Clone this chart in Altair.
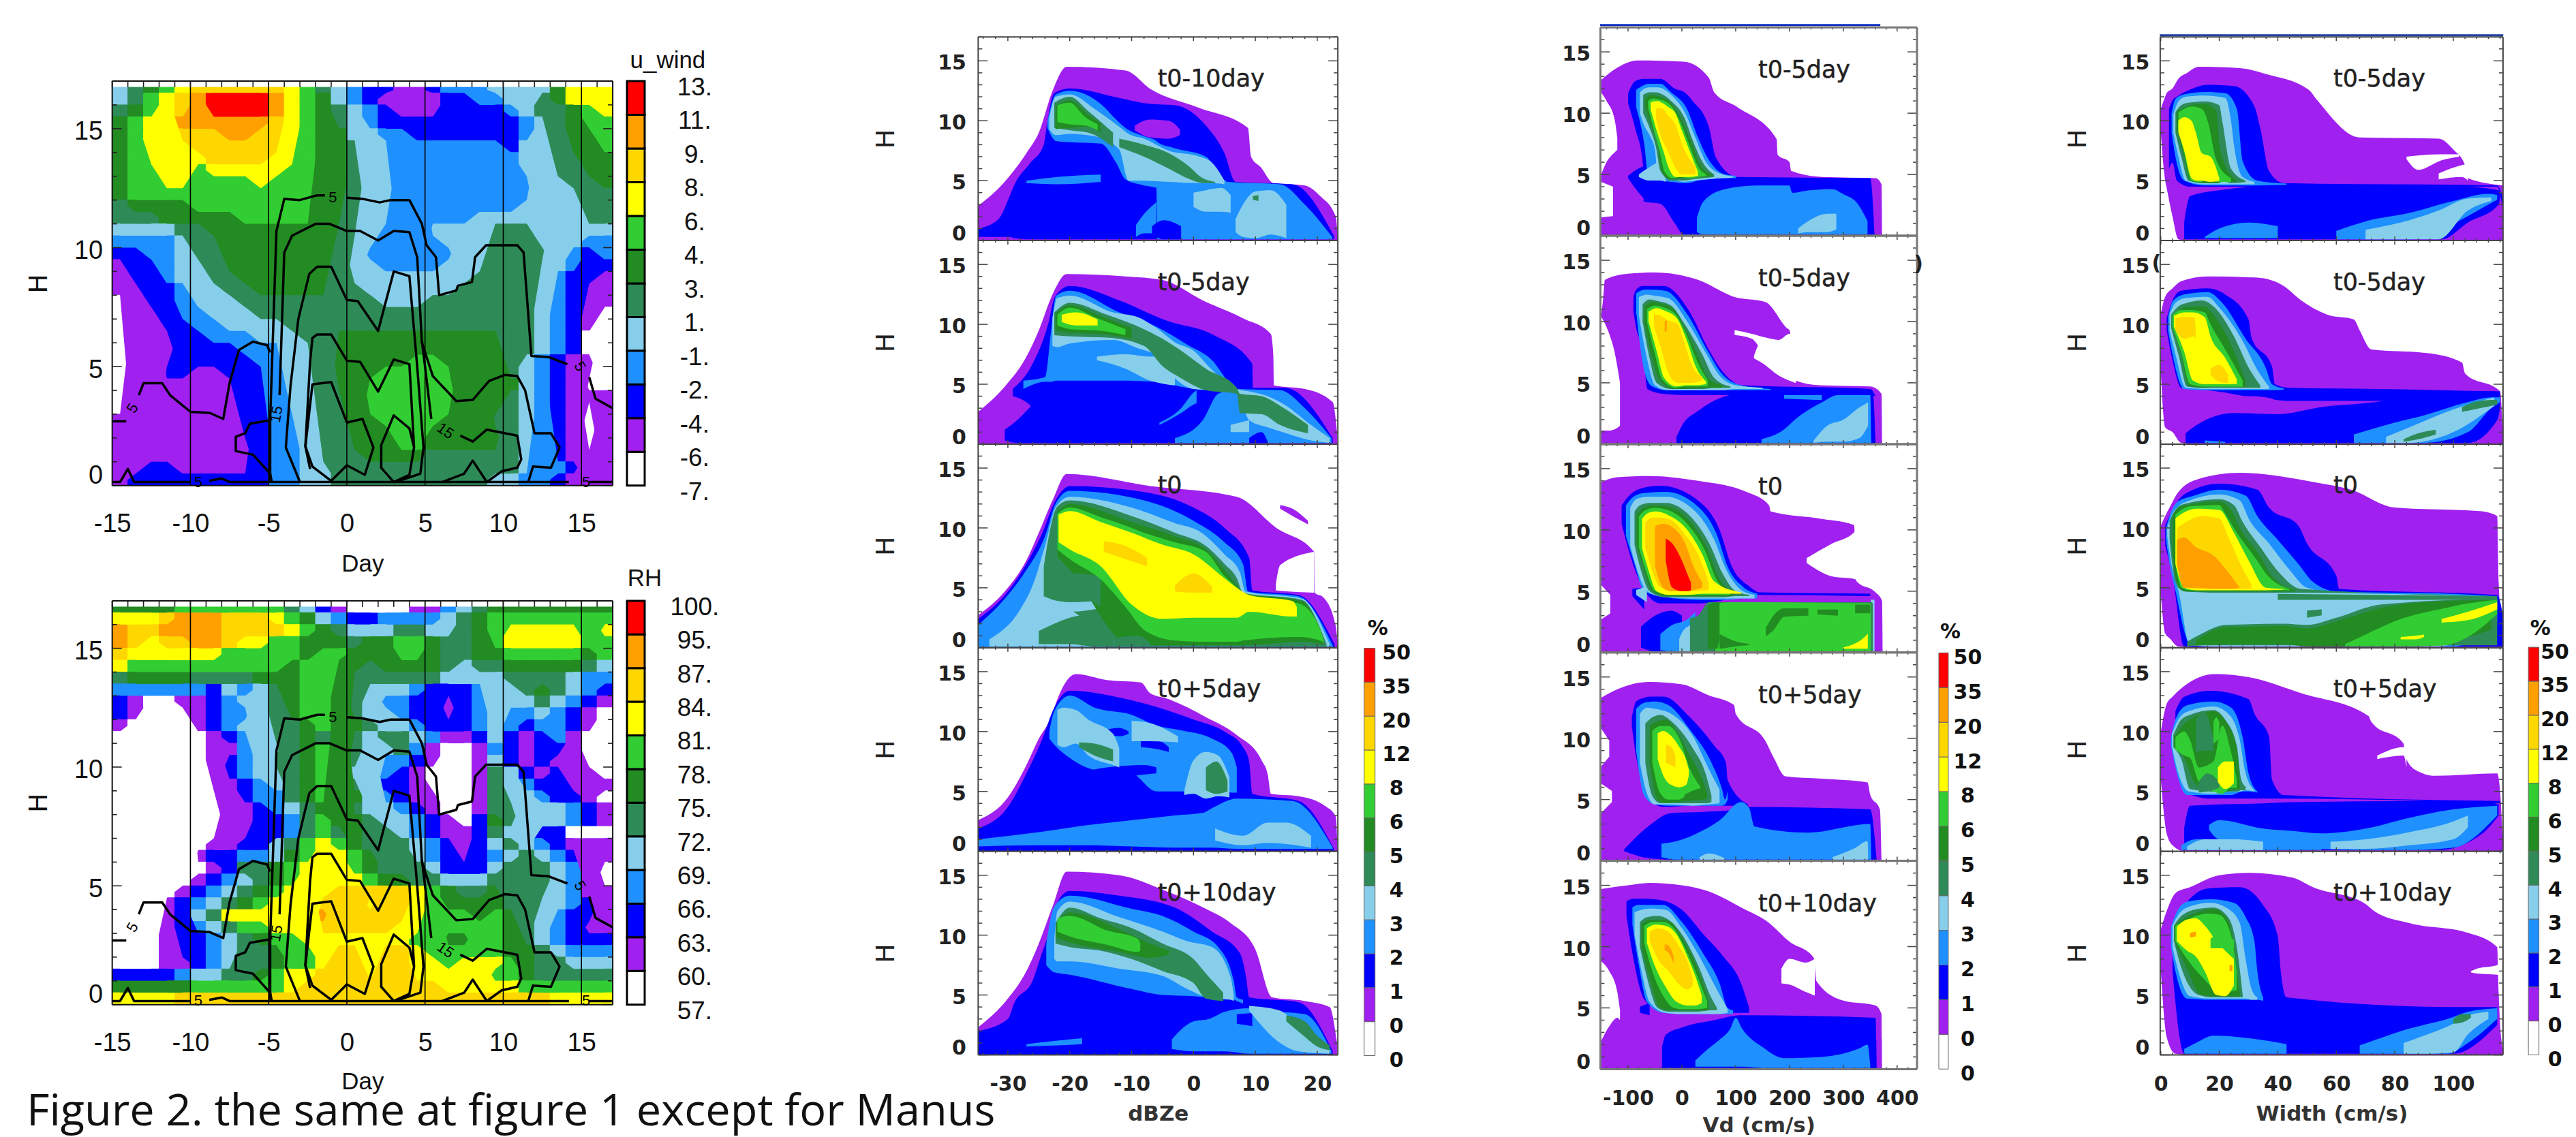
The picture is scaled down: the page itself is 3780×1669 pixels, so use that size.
import altair as alt
import pandas as pd

VIEW_W, VIEW_H = 3772, 1661
LEVELS = ["W", "P", "B", "D", "S", "G", "F", "L", "Y", "O", "A", "R"]
COLORS = ["#ffffff", "#a020f0", "#0000ff", "#1e90ff", "#87ceeb", "#2e8b57", "#228b22", "#32cd32", "#ffff00", "#ffd700", "#ffa000", "#ff0000"]
U_LABELS = ["-7.", "-6.", "-4.", "-2.", "-1.", "1.", "3.", "4.", "6.", "8.", "9.", "11.", "13."]
RH_LABELS = ["57.", "60.", "63.", "66.", "69.", "72.", "75.", "78.", "81.", "84.", "87.", "95.", "100."]
PCT_LABELS = ["0", "0", "1", "2", "3", "4", "5", "6", "8", "12", "20", "35", "50"]

U_WIND = [
"SGFLYOOOOOOYLGSDBBPPBDDDSSSSFYYY",
"SGLYOARRRRAYLFSDBPPPPBBDDSSGFYYY",
"GFLYOARRRRAYLFGSDBPPPBBBBDSGGFLY",
"FLYYAAAAAAOYLFGSDBBBBBBBBBDSGFLL",
"FLYYOOOAAOOYLFFSSDDBBBBBBBDSGFFL",
"FLYYYOOOOOOYLFFGSSDDDDDDDBSSGFFL",
"FLYYYYOOOOYYLFFGSSDDDDDDDDSSGGFF",
"FLLYYLYYYYYLLFFGSSDDDDDDDDSSGGFF",
"FLLYYLLLLYLLLFFGSSDDDDDDDDDSSGGF",
"FLLLLLLLLLLLLFFGSSDDDDDDDDDSSSGG",
"GFFFFLLLLLLLLFFGSSDDDDDDDDSSSSGG",
"GGGFFFFFLLLLLFFGSSDDDDDSSSSSSSGG",
"SSSSGGFFFFFFFFGGSDDDSSSSGGGSSSSS",
"DDDDSGGFFFFFFFGSSDDDDSSSGGGSSSDD",
"BBDDSGGFFFFFFFGSDDDDDDSSGGGGSDBD",
"PBBDSSGFFFFFFFGSSDDDDSSSGGGSSDBB",
"PBBDSSGGFFFFFFGSSSSSSSSGGGGSDBBP",
"PPBBDSSGGFFFFFGGSSSSSSGGGGGSDBPP",
"WPBBDSSSGGGGGGGGGSSSGGGGGGGSDBPP",
"WPPBDDSSSGGGGGGGGGGGGGGGGGGSDBPW",
"WPPBBDDSSSSGGGGGGGGGGGGGGGGSDBPW",
"WPPPBBDDDSSSGGFFFFFFFFFFFGGSDBWW",
"WPPPBBBBDDDSSGFFFFFFFFFFFGGSDBWW",
"WPPPBBBBBDDSSGFFFFFLLFFFFGSDBPPW",
"WPPBBPPBBBDSSGFFFLLLLLFFFGSDBPPW",
"WPPPPPPPBBDSSGFFLLLLLLFFFFSDBPWW",
"WPPPPPPPBBDSSGGFLLLLLLFFFGSDBPPP",
"WPPPPPPPBBDSSGGFLLLLLLFFFGSDBPWP",
"PPPPPPPPBBDDSGGFFLLLLFFFGGSDBPWP",
"PPPPPPPPBBDDSGGFFFLLFFFFFGSDBPWP",
"PPPPPPPPPBDDSGGFFFLLFFFFFGSDBPWP",
"PPPPPPPPPBDDSGGGFFFFGGGGGGSDBPPP",
"PPBBPPPPPBDDSSGGGGGGGGGGGGSDDBPP",
"PBBBBBBBBBDDSSGGGGGGGGGGSSDDBPPP",
]

RH = [
"FFFFLLLLLLLGSBPWWWWPPDSGFFFFFFFF",
"YYYOAAAOOOYLFSDBBDDDDSGFLLLLLLLL",
"AOOAAAAOOOOYLFGSSSGGSSGFLYYYYYLY",
"AOYOOAAOYYLLFFFGFFLLFGGFLYYYYYLL",
"OYYYYYYLLLLLFLLFFFLLFGGFFLLLLLFL",
"YLLLLLLLLLLFLLFFGFFFFGSGGFFFFFGS",
"GFFFFGGGGFFFLLFGGGGGGSSSSGGGGSDD",
"DDDDDDBSDSGFLLFGSSSDBBBDSSGFGSDB",
"BPWWPPBDSSGFLLFGSDDBBPBDSSSGSDBP",
"BPWWWPBDDSGFLLFGSSDBBPBDSDDSDBPW",
"PWWWWPBDSSGGFLFFGSSDBBBDSDBDDBPW",
"WWWWWWPBDSGGFGFGSGGSDPPBSBPBDPWW",
"WWWWWWPPDSSGFLFGSSGDPWWPDBPBBPWW",
"WWWWWWPBDSGGFLFGSDDBPWWPSBPBPPWW",
"WWWWWWPBDSSGFLFSSDBPWWWPGSBPBPPW",
"WWWWWWPPBDSGFLFGSBBPWWWPGSDBBPPP",
"WWWWWWWPBDDGFLFFSDBPPWWPGSSDBBPW",
"WWWWWWWPPBDSGFFGSSDBPWWPGGSSSDBP",
"WWWWWWWPPBBDGLFFGSSDBPWBFGSSSDBP",
"WWWWWWWPPBBDGLGFGGSDBPPBGSSBBWWW",
"WWWWWWPPBBSGLYLFGGGSDBPBSGSDBPPP",
"WWWWWPBBDDSFLYYLFGGSDBPBDSGSDBPP",
"WWWWWWPBGGFLYYYLFGGGSBBBSGGGSDPW",
"WWWWWPBDSGFLYYYYLFFGGSSSGGGGSDPW",
"WWWWPBDSGFLYYYOOOOOYLFGGFGGGSDPP",
"WWWPBDSGFLYYYOOOYOOYLFFFFGGSSDBP",
"WWWPBSGYYYYYYAOOOOOYLLLFLFGSDBBP",
"WWWPBDSGLLYYYOOOOOYYLLLLLFGSDBPP",
"WWWPBBDSGFLLYYYYYYYLLFFLLFGSDBBB",
"WWWPBBDSGGFLLYOOYOOYLLLLLFFGSDDD",
"WWWPPBDSGGFLLYOOYOOYYLYYYLFGGSSS",
"BBBBDSSGGFLYYOOOYOOYYYYYLLFGGGGG",
"FFFFFLLLLLLYOOOOOOOOOYYYYYLLLLLL",
"YYYYOOOOOOOOOOOOOOOOOOOOOOOOYYYY",
]

CONTOURS = [
[(-15,2.7),(-14.1,2.7)],
[(-13.3,3.8),(-13,4.3),(-11.8,4.3),(-11.3,3.8),(-10,3.1),(-8.75,3.05),(-7.9,2.8),(-7.5,4.3),(-6.9,5.7),(-6,6.05),(-5.1,5.9),(-4.9,5.6)],
[(-4.9,0.2),(-4.9,2.8),(-4.5,10.7),(-4,12.05),(-3,12),(-1.9,12.2),(-1.4,12.2)],
[(0,12.1),(1,12.05),(2.1,11.9),(2.8,12),(4,12),(4.8,11),(5.1,10.1),(5.7,9.6),(5.9,8),(7,8.2),(7.1,8.4),(8,8.55),(8.2,9.6),(8.9,10.1),(10.9,10.1),(11.3,9.8),(11.8,5.45),(12.9,5.4),(14.1,5.1)],
[(15.5,4.55),(15.9,3.65),(17,3.25)],
[(-4.9,2.75),(-6.2,2.6),(-6.5,2.2),(-7.1,2.05),(-7.1,1.45),(-6,1.3),(-4.9,.5),(-4.8,.15)],
[(-4.3,3.8),(-4,9.8),(-3.5,10.5),(-2,11),(-1.1,11),(0,10.7),(.85,10.7),(2,10.3),(3,10.7),(4,10.65),(4.5,9.6),(4.8,6),(5.5,4.6),(7,3.55),(8.05,3.6),(9.1,4.4),(10.1,4.65),(10.9,4.6),(11.4,4),(12,2.2),(13.05,2.2),(13.6,1.6),(13.05,.75),(11.9,.8),(11.6,.15)],
[(4.8,6.1),(5.4,2.8)],
[(7.25,2.1),(8.05,1.85),(8.95,2.35),(10.9,2.1),(11.15,1.1),(10.9,.75),(9.9,.6),(8.95,.15),(8.05,1.05),(7.5,.5),(6.1,.15)],
[(-3,.15),(-3.9,1.6),(-3.6,4.2),(-3.1,7),(-2.4,8.9),(-1.9,9.2),(-1,9.2),(0,7.8),(.7,7.75),(2,6.5),(3,9),(4,8.8),(4.5,5),(4.9,1.6),(4.7,.5),(3.1,.15)],
[(-2.35,.7),(-2.65,1.65),(-2.35,5.2),(-2.2,6.2),(-1.9,6.35),(-1,6.35),(0,5.25),(.85,5.2),(2,3.95),(3,5.3),(4,5.1),(4.3,1.6),(4,.45),(3,.15),(2.2,.75),(2.2,1.7),(3,2.95),(4,2.4),(4.3,1.6)],
[(-1,.2),(-2.2,.8),(-2.65,1.65),(-2.2,4.25),(-1,4.35),(0,2.65),(1,2.8),(1.7,1.6),(1.15,.45),(0,.85),(-1,.2)],
[(-15,.15),(-14.5,.15),(-14,.7),(-13.6,.15),(-10,.15)],
[(-8.8,.2),(-8,.3),(-7.5,.15),(14.2,.15)],
[(15.5,.15),(17,.15)],
]
CONTOUR_LABELS = [(-13.7,3.25,"5",-60),(-0.9,12.1,"5",0),(-4.5,3,"15",-80),(6.3,2.3,"15",35),(14.9,5,"5",60),(-9.5,.15,"5",0),(15.3,.15,"5",0)]

# ---- dBZe panels: (level, [(x, low H, high H), ...])
DBZ_M10 = [
("P",[(-35,0,2.9),(-30.7,0,4.8),(-27,0,7.3),(-25,0,9),(-22.7,0,12.6),(-20.5,0,14.5),(-11,0,14.2),(-6.8,0,12.6),(.8,0,11.1),(8.8,0,9.4),(9.3,0,7),(10.9,0,6.1),(12.9,0,4.8),(18,0,4.6),(20.5,0,3.7),(23,0,2),(23.3,0,.3)]),
("B",[(-35,.3,1),(-31.5,.3,1.8),(-29.8,.3,3.6),(-29,.2,4.6),(-26.5,.1,6.4),(-24.2,.1,8),(-23.6,.1,10),(-22.5,.1,12.3),(-20,.1,12.7),(-12,.1,11.9),(-7,.1,11.4),(-3,.1,11.3),(2,.1,9.6),(5,.1,7.3),(6.8,.1,4.9),(16,.1,4.7),(22.7,.1,.4)]),
("P",[(-9.5,9.2,9.6),(-7,8.6,10.1),(-4,8.5,10),(-2.2,8.8,9.3)]),
("D",[(-23.6,9.4,10),(-22.2,8.3,12.2),(-20,8.2,12.5),(-15,8.1,11.4),(-12.5,6.5,10.1),(-11,5.1,9.4),(-8,4.6,8.7),(-6,4.4,8.3),(-5.8,.1,8.2),(-3,.1,7.7),(2,.1,7),(4.5,.1,5.3),(5.5,.1,4.9),(14,.1,4.7),(18,.1,3),(22.4,.1,.3)]),
("D",[(-9.3,.3,1.3),(-8,.6,2.2),(-6,.6,3.2)]),
("D",[(-27,4.8,5),(-22,4.7,5.3),(-15,4.9,5.5)]),
("B",[(-6.7,.5,1.2),(-4.8,.1,1.7),(-2,.1,1.2)]),
("S",[(-23.3,9.3,10.2),(-22.3,8.8,12),(-20,8.9,12.2),(-16,8.7,11),(-12,7.6,9.5),(-10.5,5,8.9),(-8,5,8.5),(-4,4.9,7.5),(1,4.8,7),(3,4.8,6.5),(5,4.7,5)]),
("S",[(0,2.8,4),(2,2.4,4.2),(4.5,2.4,4.4),(6,2.3,3.8)]),
("S",[(6.8,.7,1.8),(8,.3,3),(10,.2,4.1),(12.5,.5,4.2),(15,.2,3)]),
("G",[(-12,7.8,8.5),(-8,7,8),(-4,6,7.3),(-1,5.2,6.3),(1.5,4.8,5.2),(3.5,4.8,4.9)]),
("G",[(-22.5,9.4,11.5),(-20,9.2,12),(-17,9,10.8),(-13,7.8,9)]),
("F",[(-22.3,9.3,11.2),(-20,9.4,11.7),(-17,9.5,10.5),(-15,9,9.8)]),
("L",[(-22,9.9,11.3),(-20,9.7,11.5),(-17.5,9.6,10.3),(-15.5,9.2,9.7)]),
("G",[(9.6,3.4,3.7),(10.5,3.3,3.8)]),
]
DBZ_M5 = [
("P",[(-35,0,2.7),(-30.5,0,4.8),(-27,0,7.3),(-25,0,9.5),(-22.7,0,12.6),(-20.5,0,14.2),(-11,0,14),(-5,0,13.7),(1.5,0,12),(8,0,10.5),(12.5,0,9.2),(12.9,0,7.4),(13,0,4.9),(18,0,4.6),(22.5,0,3.5),(23.2,0,1)]),
("B",[(-30.5,.3,1.2),(-28.5,.1,2),(-26,.1,3.3),(-23,.1,4.5)]),
("B",[(-29.2,4,4.6),(-26,3,6.7),(-23.5,.1,10),(-22.4,.1,12.3),(-20,.1,13.2),(-12,.1,12),(-4.3,.1,10.3),(3.3,.1,9.1),(9.5,.1,6.7),(9.6,.1,4.7),(14.8,.1,4.7),(22.5,.1,.5)]),
("D",[(-27.5,4.6,5.3),(-24,5.2,5.6),(-23,5.2,9.5),(-22.2,5.3,12.4),(-20,5.3,12.8),(-12,5.3,11),(-6,5.2,9.8),(-1,4.7,8.3),(3,4.5,7),(6,4.6,5),(7,.1,4.6),(14,.1,4.5),(18,.1,3),(22.3,.1,.5)]),
("D",[(-5.5,1.6,1.8),(-2,2.6,3),(0,3.3,4.3),(.5,3.4,4.5)]),
("D",[(-3,.1,.5),(1.5,.1,2),(4,.1,4.2),(6.9,.1,4.6)]),
("B",[(9,.1,.5),(11,.1,1),(12,.1,.2)]),
("S",[(-22.8,8.2,10.5),(-22,8.1,12.2),(-20,8.4,12.4),(-13,8.7,11),(-9,8,10.6),(-6,7.4,9.7),(-3,5.5,8.5),(0,4.6,7.8),(3,4.5,6.2),(7,4.4,4.6),(9,2,4.4),(12,1.4,4),(15,.9,3.2),(19,.3,1.6),(22,.1,.5)]),
("S",[(-15.6,7,7.3),(-11,6.3,7.5),(-7,5.3,7.3),(-3,4.9,7.5)]),
("S",[(6,1,1.6),(9,1,2)]),
("G",[(-22.5,9.1,11),(-20,9,11.8),(-14,8.9,10.8),(-8,8.2,9.6),(-5,6.5,8.8),(-2,5.5,7.8),(2,4.5,6.3),(7,4.2,4.7),(7.5,2.6,4.2),(11,2.5,4),(14,1.6,3.2),(18.5,.9,1.6)]),
("F",[(-22.3,9.5,10.9),(-20,9.3,11.6),(-15,9.2,10.7),(-10,8.8,9.7)]),
("L",[(-22,9.9,10.8),(-20,9.6,11.4),(-15.5,9.5,10.5),(-11,9.1,9.6)]),
("Y",[(-21.3,10.2,10.8),(-19,9.9,11),(-15.5,9.9,10.4)]),
]
DBZ_0 = [
("P",[(-35,0,2.7),(-30,0,5),(-27,0,7.3),(-25,0,9.6),(-22.7,0,12.4),(-20.5,0,14.5),(-7,0,13.5),(7,0,12.6),(13.4,0,10),(19.5,0,8),(19.6,0,4.6),(21,0,4.2),(23,0,1.8),(23.3,0,.2)]),
("W",[(13.3,4.8,5.3),(14,4.75,6.9),(19.5,4.6,8)]),
("P",[(14,11.6,11.9),(16,11,11.6),(18.5,10.3,10.6)]),
("B",[(-35,0,2.4),(-30,0,4.7),(-27,0,7),(-24.5,0,9.5),(-22.4,0,12.2),(-20,0,13.5),(-8,0,13),(0,0,11.7),(5,0,10),(9,0,7.5),(9.5,0,4.8),(17,0,4.4),(22.8,0,.3)]),
("D",[(-35,0,1.9),(-30,0,4.4),(-27,0,6.5),(-24,0,9.3),(-22.3,0,12),(-20,0,13.1),(-8,0,12.3),(0,0,10.6),(5,0,8.8),(8,0,7),(8.8,0,4.7),(17,0,4.3),(22.5,0,.2)]),
("S",[(-33,.1,.7),(-28,.1,3.2),(-26,.1,5.2),(-24,.1,8.5),(-22.2,.1,11.8),(-20,.1,12.6),(-10,.1,11.7),(-3,.1,10.4),(1,.1,9.7),(5,.1,7.8),(7.5,.1,6.3),(8.4,.1,4.7),(17.5,.1,4.1),(22,.1,.3)]),
("G",[(-24.2,4.3,6.8),(-22,3.8,11.8),(-20,3.2,12.3),(-10,.1,11),(-3,.1,9.6),(2,.1,8.5),(5,.1,7),(7,.1,5.8),(8,.1,4.6),(17.5,.1,4),(21.5,.1,.3)]),
("G",[(-25,.3,1.4),(-20,.3,2.5),(-16,.1,3),(-13,.1,4)]),
("S",[(-26,3,4.5),(-20,3,3.8),(-14,3.4,4)]),
("F",[(-22,7.6,11.4),(-20,6.5,12),(-10,.2,10.5),(-3,.2,9.3),(2,.2,8.2),(5,.2,6.5),(7,.2,5.2),(7.8,.2,4.6),(17.5,.5,3.9),(21,.3,.6)]),
("G",[(-24,5,5.6),(-20,4.8,6.2),(-15,3.4,6)]),
("G",[(-13,.1,.8),(-9,.1,1),(-7,.1,.4)]),
("L",[(-22,8.2,11.2),(-20,7.4,11.7),(-15,5.7,10.9),(-11,3.4,10.2),(-8,1.5,9.6),(-3,.6,8.8),(2,.5,8),(5,.5,6),(7,.5,5),(8,.6,4.4),(17,.9,3.7),(20.5,.6,1.5),(21,.4,.7)]),
("Y",[(-21.8,8.8,11.1),(-20,8.2,11.4),(-15,6.8,10.5),(-10,3.6,9.6),(-5,2.4,8.6),(0,2.5,7.8),(5,2.5,5.8),(7,2.5,5),(9,3,4.4),(16,2.6,3.9),(16.7,2.6,3.4)]),
("O",[(-14.5,8,8.9),(-11,7.4,8.5),(-7.5,6.8,7.5)]),
("O",[(-3,4.7,5.2),(0,4.6,6.2),(3,4.6,5.1)]),
]
DBZ_P5 = [
("P",[(-35,0,2.6),(-30,0,4.5),(-27,0,7.2),(-25,0,9.4),(-23,0,11.2),(-22,0,12.7),(-19,0,14.8),(-14,0,14.3),(-8.5,0,14.1),(-7,0,13.2),(-4,0,12.7),(2,0,11.2),(7,0,9.7),(11,0,7.6),(12,0,6.4),(12.5,0,4.8),(17,0,4.6),(21.5,0,3.7),(23,0,2.9),(23.3,0,.1)]),
("B",[(-35,0,1.9),(-30,0,3.7),(-27,0,6.5),(-24.5,0,9.3),(-22.5,0,12),(-20,0,13.4),(-10,0,12.6),(0,0,11),(5,0,10),(8,0,8.7),(9,0,7.5),(9.5,0,4.8),(17,0,4.2),(22.7,0,.2)]),
("D",[(-23.3,9.4,10),(-22.5,8.9,11.7),(-20,7.8,13),(-16,6.8,12),(-10,6.5,11.4),(-6,5,10.5),(-2,5,10.1),(3,5.1,9.4),(6.2,4.9,8.2),(7,4.9,7)]),
("D",[(-35,.4,1),(-25,.5,1.6),(-17,.5,2.2),(-10,.4,2.6),(-3,.3,3),(1.5,.3,3.2),(3,.3,3.6),(7,.2,4.4),(16,.2,4.2),(22.5,.2,.3)]),
("B",[(-14.5,9.9,10.1),(-12,9.6,10.3),(-10.5,9.8,10)]),
("B",[(-8.5,8.7,9.3),(-5.5,8.5,9.2),(-4,8.3,8.7)]),
("B",[(-18,6.3,6.6),(-14,6,7),(-8,6.4,7.2),(-6,6.5,7)]),
("B",[(-14,4.6,5),(-10,4.2,5),(-6,3.7,5)]),
("S",[(-22,8.9,11.8),(-21,8.7,12),(-19,9,11.8),(-17,8,11),(-13,7.2,9.8),(-12,7,8.6)]),
("S",[(-10,9.2,10.9),(-7,9.2,10.7),(-2.5,9.1,9.6)]),
("S",[(-1.5,4.7,5),(0,4.8,7.6),(2,4.4,8.3),(4,4.6,8),(5.8,4.5,6.2)]),
("S",[(3.5,.9,1.9),(8,.5,1.3),(12,.7,2.4),(15,.6,2.4),(19,.3,1.3)]),
("G",[(-18.5,8.7,9.1),(-16,8,9),(-13,7.5,8.5)]),
("G",[(2,5.1,7),(3.7,4.8,7.5),(5.5,5,5.9)]),
]
DBZ_P10 = [
("P",[(-35,0,2.3),(-30,0,4.7),(-27,0,7),(-25,0,9.3),(-22.7,0,12.5),(-20.5,0,15.3),(-12,0,15),(-5,0,13.8),(2,0,12.2),(6,0,11),(10,0,8.8),(12.7,0,4.8),(18,0,4.5),(22,0,4),(23.2,0,1)]),
("B",[(-35,0,2),(-30,0,3),(-29,0,4.3),(-26,0,6.2),(-24.5,0,8.5),(-23.5,0,10),(-22.5,0,12.2),(-20,0,13.7),(-12,0,13.3),(-3,0,12.3),(3,0,10.3),(7.5,0,8.5),(8.5,0,6.5),(9,0,4.8),(17,0,4.4),(22.5,0,.3)]),
("D",[(-23.8,7.5,9.2),(-22.5,6.9,12.4),(-20,6.7,13.3),(-10,5.5,12.2),(-5,5,11.6),(0,4.9,10.3),(4,4.7,9),(6.5,4.6,6.2),(7,4.5,4.8),(8,4.3,4.6)]),
("D",[(-3.5,.5,1.3),(0,.3,2.8),(2.5,.3,3),(5,.3,3.6),(9,.1,3.9),(14,.1,3.6),(18,.1,3.4),(22.3,.1,.3)]),
("D",[(-27,.7,.9),(-22,.8,1.2),(-18,.9,1.4)]),
("B",[(7,2.6,3.4),(9.5,2.4,3.5)]),
("S",[(-22.5,8,9.5),(-22,7.8,12),(-20,7.8,12.8),(-12,7.2,11.5),(-5,6.6,10.3),(-1,5.5,9.5),(3,4.7,9),(6,4.6,6.5),(6.5,4.5,5)]),
("S",[(9,3.7,4.1),(14,1,3.7),(17,.3,2.4),(22,.1,.4)]),
("G",[(-22.3,9.3,11),(-20,9,12.3),(-15,8.7,11.4),(-10,8,10.6),(-5,7,9.3),(0,6,8),(2,4.7,6.8),(4.8,4.5,5.2)]),
("G",[(15,2.8,3.3),(18,1.5,2.8),(20,.7,1.6),(22,.4,.8)]),
("F",[(-22.2,9.8,10.9),(-20,9.4,11.9),(-12,8.6,10.5),(-7,8.1,9.3),(-4,8.4,8.7)]),
("L",[(-22,10.3,11.4),(-20,9.9,11.6),(-14,9.2,10.4),(-9,8.6,9.7),(-8.6,8.7,9.3)]),
]
# ---- Vd panels
VD_M5A = [
("P",[(-150,0,12.7),(-124,0,13.6),(-82,0,14.3),(3,0,14.2),(50,0,12.9),(60,0,11.7),(103,0,10.5),(176,0,7.9),(178,0,6.6),(200,0,6),(203,0,5.3),(260,0,4.8),(360,0,4.7),(371,0,4.2),(372,0,.1)]),
("W",[(-150,5,11.7),(-140,6,11),(-125,6.8,9.5),(-120,7,8)]),
("W",[(-150,1.5,4.4),(-128,1.6,4)]),
("B",[(-100,10.8,11.6),(-87,8.8,12.6),(-72,5.7,12.8),(-71,2.8,12.8),(-40,2.6,12.8),(-13,1,12),(5,0,11.7),(20,0,11),(50,0,8.9),(63,0,6.4),(103,0,4.8),(350,0,4.7),(358,0,.1)]),
("B",[(-100,4.7,4.9),(-80,3.5,5.5),(-70,3,5.7)]),
("D",[(28,.3,1.5),(40,.1,2.8),(80,.1,3.8),(140,.1,4.1),(200,.1,4.1),(205,.1,3.5),(235,.1,3.7),(280,.1,3.8),(300,.1,3.4),(325,.1,2.7),(345,.1,1.2)]),
("D",[(-85,10.5,11.9),(-70,7.5,12.3),(-62,4.8,12.4),(-40,4.5,12.4),(-20,4.4,11.7),(10,4.3,10.3),(30,4.5,8),(50,4.6,6.2),(80,4.7,5),(100,4.7,4.9)]),
("S",[(-80,4.8,5),(-60,4.5,5.6),(-40,4.5,6),(-30,4.4,5.8)]),
("S",[(-78,10,11.7),(-70,9,12),(-60,8.2,12.1),(-50,7,12.1),(-45,5,12.1),(-20,4.6,11.5),(5,4.4,10.1),(25,4.5,8),(45,4.6,6),(75,4.7,5),(95,4.75,4.85)]),
("G",[(-72,10,11.5),(-60,8.8,11.7),(-48,7.2,11.7),(-40,5.3,11.6),(-20,4.5,11),(5,4.5,9.6),(20,4.6,7.8),(40,4.7,5.9),(60,4.8,5)]),
("F",[(-68,10.5,11.2),(-57,9,11.5),(-45,7.5,11.4),(-37,5.2,11.3),(-20,4.6,10.8),(0,4.7,9.4),(17,4.7,7.7),(35,4.8,5.7),(55,4.85,5)]),
("L",[(-63,10.5,11),(-52,8.6,11.2),(-42,7,11.1),(-32,5.2,11),(-18,4.7,10.5),(-3,4.8,9.3),(13,4.7,7.5),(32,4.8,5.5),(45,4.9,5)]),
("Y",[(-58,10.3,10.9),(-45,8.3,11),(-35,7,10.8),(-25,5.6,10.5),(-12,4.8,10),(0,4.8,8.6),(12,4.8,7.2),(30,4.9,5.2)]),
("O",[(-48,9.5,10.4),(-38,8,10.4),(-25,6.8,9.8),(-10,5.4,8.9),(0,5,7.5),(15,5,6.2),(25,5,5.6)]),
("S",[(216,.2,.6),(235,.3,1.2),(270,.3,1.8),(287,.5,1.8)]),
]
VD_M5B = [
("P",[(-150,0,10.4),(-146,0,12),(-143,0,13.4),(-100,0,13.9),(-50,0,14),(30,0,13.4),(98,0,12),(155,0,11.6),(197,0,9.4),(200,0,9.3),(210,0,5.2),(255,0,4.8),(350,0,4.7),(371,0,4.1),(372,0,.1)]),
("W",[(98,8.9,9.3),(130,8.6,9),(155,7.5,8.7),(180,7.5,8.5),(200,5.5,9),(210,5,9)]),
("W",[(134,7,7.2),(150,6.6,8.5),(180,5.6,8.3),(205,5.1,9),(212,5,9)]),
("W",[(-150,1.1,10.4),(-135,1.1,9),(-125,1.2,7.5),(-115,1.5,5)]),
("B",[(-90,10.8,12),(-85,9.5,12.6),(-72,7.5,12.9),(-64,4.5,12.9),(-34,4.1,12.9),(13,4,10.9),(50,4,7.7),(76,4,5.9),(113,4,4.8),(350,4,4.5),(360,3.9,3.9)]),
("B",[(-10,.1,.6),(0,0,1.5),(30,0,2.7),(110,0,4.1),(355,0,4.1),(360,0,.1)]),
("D",[(148,.1,.4),(190,.1,1.2),(210,.1,2),(260,.1,3.4),(290,.1,4),(350,.1,4),(352,.1,.3)]),
("D",[(190,3.7,4),(260,3.6,4)]),
("S",[(245,.1,.3),(270,.2,1.5),(300,.2,2),(330,.5,3),(346,1.5,3.4)]),
("D",[(-85,10.8,12.3),(-70,6,12.6),(-55,4.7,12.6),(-30,4.4,12.5),(10,4.4,10.6),(48,4.4,7.6),(75,4.4,5.7),(110,4.4,4.8),(165,4.4,4.5)]),
("S",[(-80,10.5,12),(-65,7,12.2),(-50,4.8,12.1),(-25,4.4,11.9),(10,4.4,10),(45,4.4,7.4),(70,4.4,5.6),(100,4.5,4.8),(150,4.5,4.6)]),
("G",[(-73,10,11.4),(-60,7,11.8),(-47,5,11.7),(-20,4.5,11.3),(5,4.5,9.8),(38,4.5,7.3),(60,4.6,5.4),(90,4.6,4.7)]),
("F",[(-70,10,11.2),(-55,7,11.6),(-42,5.3,11.5),(-15,4.5,11),(5,4.5,9.5),(33,4.6,6.9),(50,4.6,5.3),(75,4.6,4.8)]),
("L",[(-65,10,11),(-50,7.3,11.3),(-37,5.3,11.2),(-12,4.6,10.6),(5,4.7,9.3),(30,4.7,6.6),(48,4.7,5.2)]),
("Y",[(-62,10,10.8),(-47,7.6,11.1),(-33,5.4,10.9),(-10,4.7,10.3),(8,4.8,8.6),(27,4.8,6.2),(45,4.9,5.1)]),
("O",[(-52,9.6,10.6),(-40,8,10.5),(-25,5.8,10.1),(-8,5,9.8),(5,5,8.2),(20,5,6.3),(38,5.2,5.5)]),
("A",[(-32,9.2,10),(-28,9.2,10.1)]),
]
VD_0 = [
("P",[(-150,0,13.9),(-120,0,14.3),(-60,0,14.4),(30,0,14),(120,0,13.1),(162,0,12),(165,0,11.5),(260,0,10.9),(320,0,10.4),(325,0,5.8),(360,0,4.9),(372,0,4.2),(373,0,.1)]),
("W",[(232,7.3,7.7),(280,6.2,8.9),(320,6,9.8),(327,5.8,10.4)]),
("W",[(-150,2.7,5.5),(-133,3.2,4.7)]),
("B",[(-112,10.5,12),(-100,8.5,12.7),(-75,5.5,13.4),(-40,4,13.6),(30,4,12.4),(70,4.2,10),(92,4.4,7.1),(125,4.6,5.4),(145,4.7,4.9),(350,4.6,4.8)]),
("B",[(-76,.4,2.1),(-50,.1,3),(-20,.1,3.4),(0,.1,3)]),
("B",[(-92,4.6,5.2),(-70,3.5,5.3)]),
("D",[(-104,9.5,12),(-90,7.5,12.7),(-70,5,13),(-30,4.5,13.1),(30,4.3,11.9),(65,4.3,9.6),(85,4.3,7),(115,4.4,5.3),(140,4.4,4.8)]),
("D",[(-40,.2,1.5),(-20,.1,2.2),(10,.1,2.7),(25,.1,3.3)]),
("S",[(-96,8.7,11.8),(-85,7,12.5),(-65,5,12.7),(-30,4.5,12.7),(25,4.4,11.5),(60,4.4,9.2),(82,4.4,6.8),(110,4.4,5.1),(135,4.4,4.7)]),
("S",[(-5,.1,1.1),(0,.1,1.6),(20,.1,2.4),(30,.1,2.9),(50,.1,3.4)]),
("S",[(-85,4.7,5.1),(-65,4.1,5.4)]),
("G",[(-88,8.8,11.5),(-78,7,12),(-60,5,12.2),(-30,4.5,12.2),(18,4.5,11),(52,4.5,8.8),(75,4.5,6.5),(100,4.6,5),(125,4.6,4.7)]),
("S",[(351,.1,4.3),(358,.1,4.3)]),
("G",[(15,.1,2.8),(30,.1,3),(50,.1,4.1),(60,.1,4.1),(352,.1,4.1),(355,.1,4)]),
("L",[(62,.1,4),(90,.1,4.1),(350,.1,4),(351,.1,3.9)]),
("F",[(48,.3,3.8),(65,.3,4.1),(70,1,4.1)]),
("F",[(70,.3,1.5),(100,.5,.9),(125,.6,.7)]),
("F",[(156,1.3,2),(170,1.8,3),(190,2.9,3.6),(235,3,3.6)]),
("F",[(252,3.1,3.5),(290,3,3.5)]),
("F",[(322,3.2,3.9),(350,3.2,3.9)]),
("Y",[(300,.3,.4),(345,.3,1.5),(345.5,.3,1.6)]),
("F",[(-84,8.8,11.2),(-72,7,11.8),(-55,5,12),(-25,4.6,11.9),(15,4.6,10.7),(47,4.6,8.5),(70,4.6,6),(95,4.6,4.9)]),
("L",[(-80,8.6,11.1),(-68,6.8,11.6),(-50,5,11.8),(-25,4.7,11.6),(12,4.7,10.4),(43,4.7,8.3),(65,4.7,5.9),(90,4.7,4.9)]),
("Y",[(-74,8.5,10.9),(-62,6.7,11.4),(-47,5,11.5),(-25,4.7,11.2),(10,4.7,10),(38,4.8,8),(60,4.8,5.8),(110,4.8,4.9)]),
("O",[(-68,8.6,10.6),(-55,6.6,11),(-40,5.3,11),(-20,5,10.8),(8,5,9.5),(30,5,8),(50,5.1,5.7)]),
("A",[(-50,7,10.3),(-35,5.3,10.5),(-20,5,10.3),(5,5,9),(22,5.1,7),(38,5.3,5.7)]),
("R",[(-30,7.5,9.3),(-18,5.3,8.9),(0,5,7.5),(12,5,6.2),(17,5.1,5.7)]),
]
VD_P5 = [
("P",[(-150,0,13.3),(-120,0,14),(-60,0,14.6),(0,0,14.4),(50,0,13.5),(97,0,12.7),(100,0,12),(155,0,9.8),(172,0,8.3),(192,0,6.9),(260,0,6.7),(345,0,6.4),(350,0,5.4),(368,0,4.2),(371,0,.1)]),
("W",[(-150,7.7,10.8),(-135,8.5,9.8)]),
("W",[(-150,3.9,6.3),(-130,4.8,5.7)]),
("B",[(-93,11,11.7),(-85,8.5,13),(-70,6,13.3),(-60,5,13.4),(-34,4.4,13.4),(13,4.5,11.8),(60,4.5,9.4),(82,4.5,8),(85,4.5,6.6),(123,4.5,4.6)]),
("B",[(-108,.8,.9),(-60,.2,2.9),(-20,.1,3.9),(40,.1,4),(85,.1,4.1),(123,.1,4.4),(350,.1,4.2),(362,.1,.1)]),
("D",[(-38,.3,1.4),(-10,.1,1.6),(40,.1,2.5),(70,.1,3.3),(110,.1,4.8),(125,.1,4.3),(135,.1,2.8),(235,.1,2.3),(350,.1,3),(352,.1,.3)]),
("S",[(33,.1,.3),(50,.1,.6),(80,.1,.2)]),
("S",[(280,.1,.3),(320,.1,1),(345,.1,1.6),(346,.2,.9)]),
("D",[(-85,9,12.4),(-70,5.3,12.9),(-50,4.6,13),(-25,4.5,12.7),(15,4.5,10.7),(55,4.5,8),(75,4.5,5.8),(80,4.6,5),(85,5,5.7)]),
("S",[(-78,8,12),(-65,5.5,12.5),(-50,4.6,12.4),(-20,4.6,12),(20,4.5,10.2),(50,4.6,7.5),(70,4.7,5.8)]),
("G",[(-68,8,11.2),(-55,5.3,11.7),(-40,4.7,11.9),(-15,4.7,11.2),(20,4.7,9.2),(45,4.7,7),(55,4.8,5.3)]),
("F",[(-60,8,11),(-45,5,11.4),(-30,4.7,11.5),(-10,4.8,10.6),(15,4.9,8.6),(40,5,6.4),(47,5.1,5.5)]),
("L",[(-55,8,10.6),(-40,5.5,11),(-25,5,11),(-5,5,10),(15,5.5,7.5),(35,5.5,6)]),
("F",[(5,5.2,5.4),(25,5,5.8),(40,5.1,6)]),
("Y",[(-45,8.3,10.4),(-35,7,10.6),(-20,6.2,10.2),(-5,6,9.3),(8,6.2,8.2),(13,7,7.4)]),
("O",[(-30,8,9.5),(-20,7.8,9.3),(-12,7.6,8.6)]),
]
VD_P10 = [
("P",[(-150,0,14.7),(-100,0,15),(-60,0,15.2),(0,0,15),(50,0,14.5),(110,0,13.2),(160,0,12),(200,0,10.4),(245,0,9.1),(250,0,7.2),(300,0,5.6),(360,0,5.2),(371,0,4.5),(372,0,.1)]),
("W",[(185,7,8.2),(200,6.9,9),(230,6.3,8.7),(247,6,9)]),
("W",[(-150,2.3,8.8),(-135,3.5,8),(-120,4.2,6.3),(-115,4,4.8)]),
("B",[(-103,12.5,13.7),(-90,9,13.9),(-70,5.7,13.9),(-40,4.8,13.8),(0,4.6,13),(40,4.6,11),(75,4.6,9.3),(110,4.6,7),(125,4.6,5)]),
("B",[(-78,4.6,5.1),(-60,4.4,5.4)]),
("B",[(-37,.1,1.8),(-30,.1,2.8),(0,.1,3.4),(60,.1,4),(110,.1,4.4),(360,.1,4.2),(362,.1,.1)]),
("D",[(25,.2,.7),(50,.2,1.7),(70,.2,2.4),(90,.2,3.3),(100,.2,4.2),(112,.2,3.3),(150,.1,1.8),(190,.1,.9),(260,.1,1),(330,.1,1.7),(345,.1,2),(350,.1,.4)]),
("D",[(-92,11.8,13.2),(-80,8.5,13.4),(-65,5.5,13.4),(-35,4.6,13.4),(0,4.5,12),(40,4.5,9.4),(70,4.5,7),(85,4.5,5),(95,4.5,4.8)]),
("S",[(-88,11,12.8),(-75,8,13),(-60,5.5,13.1),(-30,4.6,13),(0,4.5,11.5),(35,4.5,9),(65,4.5,6.5),(85,4.6,4.9)]),
("G",[(-78,10,12),(-65,7.5,12.4),(-45,5,12.5),(-25,4.7,12.2),(0,4.7,11),(30,4.7,8.5),(55,4.8,5.8),(65,4.8,5)]),
("F",[(-75,10,11.8),(-60,7.5,12.2),(-40,5,12.2),(-20,4.8,12),(0,4.8,10.7),(28,4.8,8.3),(50,4.8,5.5)]),
("L",[(-70,10.3,11.7),(-55,8,12),(-35,6,12),(-15,5,11.5),(0,4.9,10.4),(25,4.9,8),(47,5,5.5)]),
("Y",[(-65,10.3,11.5),(-50,8.4,11.8),(-30,6.7,11.7),(-10,5.5,11),(10,5.2,9.2),(25,5.2,7.6),(37,5.4,6)]),
("O",[(-60,10.5,11.2),(-45,9,11.5),(-25,8,11.2),(-5,6.9,10),(10,6.5,8.8),(20,6.8,7.5)]),
("A",[(-32,9.7,10.2),(-25,9.5,10.1),(-15,8.6,9.2)]),
]
# ---- Width panels
WD_M5A = [
("P",[(0,9,11),(1.5,5,12),(2,4.4,12.3),(4,2,12.7),(6,.1,13.5),(9,0,14),(13,0,14.5),(27,0,14.4),(36,0,13.9),(50.5,0,12.6),(53.5,0,11.7),(68,0,8.6),(95,0,8.5),(100,0,7.6),(104,0,6.3),(105,0,5.2),(117,0,4.6)]),
("W",[(84,6.8,7),(88,5.9,7.1),(96,6.7,7.2),(102,7,7.2)]),
("W",[(95,5.1,5.6),(103,5.3,6.3),(105,5,6.4)]),
("B",[(2.8,6,11),(4,6.5,11.7),(5.5,5,12),(10,4.5,12.6),(16,4.5,13),(25,4.5,12.9),(32,4.5,11.2),(34,4.5,9.4),(37,4.5,5.8),(42,4.5,4.8),(115,4.5,4.6),(117,2.5,3.5)]),
("B",[(8,.1,1.5),(10,.1,3.7),(20,.1,4.2),(42,.1,4.6),(96,.1,4.6),(105,1.5,4.5),(115.5,3,4.2),(116,3.5,3.9)]),
("D",[(3.7,9,10.6),(5,7,11.8),(8,5,12.2),(15,4.6,12.4),(22,4.6,12.3),(26,4.6,11),(28,4.6,6.6),(33,4.6,5),(43,4.65,4.75)]),
("S",[(4.3,9,10.5),(6,7,11.6),(8.5,5,12),(15,4.7,12.1),(22,4.7,11.9),(24,4.7,10),(25,4.7,8),(28,4.7,5.3),(32,4.7,4.9)]),
("G",[(5,9,10.7),(7,7,11.3),(9.5,5,11.5),(15,4.8,11.6),(20,4.8,11.3),(21,5,10),(24,4.8,6),(29,4.9,5)]),
("F",[(5.5,9.2,10.8),(8,7,11.1),(10,5,11.3),(15,4.8,11.4),(19,4.8,10.8),(20,4.9,8),(21,4.9,7),(26,4.9,5)]),
("L",[(6,9.2,10.7),(8,7.3,11),(10.5,5,11.2),(14,4.9,11),(16,6,10),(19,4.9,6.7),(24,4.9,5.2)]),
("Y",[(6,9,10),(8,7.5,10.3),(10.5,5.2,10),(12,5,9),(14,5,7.3),(17,4.9,7),(20,5,5.2)]),
("D",[(15,.2,.3),(20,.2,1),(30,.2,1.5),(40,.2,1.2)]),
("D",[(60,.1,.8),(70,.1,1.6),(85,.1,2.3),(100,1.4,3.3),(112,3,3.9),(115,3.4,3.8)]),
("S",[(70,.1,.9),(85,.1,1.7),(95,.1,2.5),(105,2.5,3.5),(113,3.3,3.6)]),
]
WD_M5B = [
("P",[(0,6,10.9),(1.5,1.4,12.3),(4,1,13),(7,.1,13.6),(16,0,14),(33,0,13.9),(42,0,13.2),(48,0,12),(57,0,10.8),(66,0,10.4),(68,0,9.5),(72,0,7.9),(91,0,7.6),(103,0,6.8),(104,0,5.9),(116,0,4.4),(117,0,.1)]),
("B",[(2,9.5,10.5),(4,7,12),(7,4.7,12.8),(16,4.5,13),(22,4.3,12.5),(30,4,10.4),(31,4,8.9),(38,3.8,6.5),(39,3.7,5),(44,3.6,4.7),(74,3.6,4.6),(116,4.1,4.4)]),
("B",[(8.5,.1,.9),(10,.1,1.2),(17,.1,2.2),(25,.1,2.6),(40,.1,2.5),(55,.1,3.1),(76,.1,3.6),(90,.1,4.4),(105,.1,4.4),(115,2,4.4),(116,3,4.2)]),
("D",[(2.5,9.5,10.6),(4,7.5,11.9),(8,4.6,12.5),(16,4.5,12.7),(21,4.5,11.8),(29,4.5,8.8),(36,4.5,6.3),(38,4.5,5),(42,4.55,4.65)]),
("S",[(3,9.5,10.8),(5,7.5,11.8),(8.5,4.7,12.2),(16,4.6,12.3),(20,4.6,11.4),(28,4.6,8.6),(33,4.6,6.2),(37,4.6,4.8)]),
("G",[(3.5,9.7,10.8),(6,7.5,11.5),(9,4.8,11.8),(14,4.7,12),(18,4.7,11.5),(25,4.7,9),(30,4.7,6.4),(34,4.7,4.9)]),
("F",[(4,9.7,10.8),(7,7.5,11.3),(9.5,4.9,11.5),(15,4.7,11.5),(18,4.8,10.8),(24,4.8,8.3),(29,4.8,5.3)]),
("L",[(4,9.8,10.8),(7,7.6,11.2),(10,5,11.2),(15,4.8,11),(17,4.8,10),(23,4.8,7.5),(28,4.8,5.3)]),
("Y",[(4.5,9.8,10.7),(8,7.7,11),(11,5.3,11),(15,5,10.6),(17,5,9),(22,5,7.2),(26,5,5.4)]),
("O",[(5,9.5,10.5),(8,8.8,10.6),(11.5,9,10.6),(12,8.6,9.2)]),
("O",[(17,5.8,6.3),(20,5.2,6.6),(23,5.1,5.8)]),
("D",[(66,.1,.8),(80,.1,1.8),(90,.1,2.4),(105,1,3.5),(113,3,3.9),(116,3.5,3.9)]),
("S",[(77,.1,.6),(85,.1,1.4),(100,1,2.9),(114,3.2,3.9)]),
("G",[(83,.2,.4),(88,.4,.9),(94,.8,1.2)]),
("G",[(103,2.7,3.1),(109,3,3.6),(115,3.3,3.7)]),
("D",[(15,.1,.3),(22,.1,.2)]),
]
WD_0 = [
("P",[(0,4.5,10.2),(1.5,1.2,11),(3,.8,11.7),(6,.1,13),(13,0,14.1),(27,0,14.6),(53,0,13.8),(65,0,13.2),(80,0,11.7),(109,0,11.4),(115,0,11),(115.5,0,5.5),(117,0,1)]),
("B",[(1.5,8.5,10.2),(4,6,11.5),(8,.1,12.8),(20,.1,13.7),(33,.1,13.2),(37,.1,11.7),(47,.1,10.2),(50,.1,8.7),(60,.1,6),(61,.1,4.9),(115,.1,4.4),(117,.1,2.7)]),
("D",[(1.8,9,10),(3,7,11),(5,4.8,12),(8.5,1,12.5),(10,.2,12.6),(20,.1,13.2),(29,.1,12.7),(33,.1,11),(40,.1,9),(47,.1,7),(52,.1,5.5),(60,.1,4.7),(100,.1,4.5),(115,2,4.3)]),
("S",[(2.2,9.3,10),(4,6.5,11.2),(6,4.8,11.8),(10,.2,12.3),(20,.1,12.8),(27,.1,12.3),(30,.1,10.8),(37,.1,8.7),(44,.1,6.5),(50,.1,5),(60,.1,4.6),(95,.1,4.4),(113,2.2,4.2)]),
("G",[(3,9,10.6),(5,5.5,11.5),(8,4.7,12),(20,4.6,12.4),(25,4.6,11.9),(28,4.6,10.5),(34,4.6,8.4),(40,4.6,6.4),(48,4.6,4.9),(115,4.3,4.3)]),
("G",[(9,.1,.5),(15,.2,1.3),(22,.2,1.9),(42,.2,2),(50,.2,1.9),(60,.2,2.5),(75,.2,3.6),(115,.2,4.1)]),
("G",[(40,4,4.5),(115,4,4.3)]),
("G",[(50,2.5,3.1),(55,2.7,3.2)]),
("F",[(4,8,11),(6,5,11.7),(9,4.7,11.9),(20,4.7,12.2),(24,4.7,11.5),(27,4.7,10),(33,4.7,8),(38,4.7,6),(46,4.7,4.8)]),
("F",[(12,.2,.6),(22,.3,1.7),(42,.3,1.8),(50,.1,1.6),(60,.1,2.2),(75,.1,3.3),(90,.2,3.8),(113,1.5,4)]),
("L",[(5,7,11.1),(7,5,11.5),(10,4.8,11.8),(20,4.8,11.9),(22,4.8,11.2),(26,4.8,9.6),(32,4.8,7.6),(37,4.8,5.9),(44,4.8,4.9)]),
("L",[(63,.1,.3),(70,.1,1.1),(81,.1,2.3),(97,.2,3.3),(105,.9,3.7),(115,2.8,4)]),
("Y",[(5,7,10.8),(8,5,11.3),(12,4.8,11.6),(20,4.8,11.5),(25,4.8,9.6),(30,4.8,7.3),(36,4.8,5),(42,4.85,4.9)]),
("Y",[(96,2.1,2.4),(105,2.3,3),(115,3.2,3.8)]),
("Y",[(82,.7,.9),(87,.7,1),(90,.9,1.1)]),
("O",[(5.5,7,10),(8,5,10.4),(14,4.9,11),(20,4.9,10.8),(23,4.9,9.3),(28,4.9,6.6),(31,4.9,5.3)]),
("A",[(5.5,7,9),(8,5,9.2),(12,5,8.4),(18,4.9,7.7),(24,4.9,6),(27,5,5)]),
]
WD_P5 = [
("P",[(0,6,10),(2,1.5,12.3),(4,.5,12.9),(8,0,13.8),(18.5,0,14.8),(31,0,14.5),(48,0,13.2),(71,0,11.3),(72,0,10.8),(83,0,9),(83.5,0,8),(87,0,6.8),(94,0,6.3),(115,0,6.5),(116,0,5),(117,0,.1)]),
("W",[(74,7.7,8),(83,8,8.7),(84,7,8.3)]),
("B",[(5,9,11.7),(8,5,12.9),(17,4.4,13.4),(30,4.4,12.7),(32,4.4,11.5),(37,4.4,9.6),(38,4.4,6),(42,4.4,4.7),(116,4,4.2)]),
("B",[(8,.1,1.9),(10,.1,3.8),(35,.1,4),(45,.1,4.1),(95,.1,4.2),(110,1.5,4.2),(115.5,3,3.9)]),
("D",[(3.5,8.8,9.5),(5,7,11),(9,4.7,12.2),(18,4.7,12.5),(24,4.7,12),(28,5,9.5),(30,5,6.5),(33,4.9,5)]),
("S",[(3.8,8.8,9.8),(6,6.5,11),(9.5,5,11.7),(18,4.8,12.1),(23,5,11.5),(27,5,9.3),(29,5.1,6.5),(32,5,5.1)]),
("G",[(4.3,8.7,9.7),(7,7.7,11),(10,5.2,11.4),(18,5,11.8),(22,5,11),(26,5,8.8),(27.5,5.1,6),(29,5.1,5.4)]),
("F",[(4.5,8.7,9.5),(7.5,8,10.5),(12,5.6,11.3),(18,5,11.7),(23,5,10.5),(26,5.2,8.5),(27,5.2,5.7)]),
("L",[(5,8.5,9.5),(8,8,10),(10,7.8,9.3),(13,5.8,7),(18,5,7.5),(21,4.8,10.5),(24,5.3,8.3),(26,5.3,6)]),
("G",[(12,8.3,11),(15,8.4,11.6),(18,8.4,9.4)]),
("G",[(13,4.9,5.8),(16,5,6.5),(20,5.3,5.8)]),
("L",[(18,9,10.8),(19,9.2,11.2),(20,9.4,10.8)]),
("Y",[(19.5,5.8,7),(22,5.2,7.5),(25,5.7,7.5)]),
("D",[(16.5,1.8,2.2),(20,1,2.6),(35,.9,1.9),(45,.8,1.7),(55,.2,1.5),(70,.1,1.9),(85,.1,2.8),(100,.3,3.5),(115,3,3.8)]),
("D",[(7,.1,.5),(12,.1,1),(30,.1,1),(55,.1,1)]),
("S",[(9,.1,.4),(15,.1,1),(25,.1,1),(35,.1,.8)]),
("S",[(58,.2,.8),(70,.2,1),(85,.5,1.6),(100,1,2.5),(105,2,3)]),
]
WD_P10 = [
("P",[(0,7,10.5),(2,1.5,12),(5,.1,13.5),(10,0,14),(20,0,15),(30,0,15.2),(45,0,14.8),(52,0,14),(70,0,12.6),(73,0,12),(85,0,11),(105,0,10.2),(115,0,9),(115.5,0,5.2),(117,0,.1)]),
("W",[(106,6.9,7),(108,6.8,7.2),(115,6.7,7.5),(116,6.6,7.6)]),
("B",[(4,7,11),(8,.1,12.5),(16,.1,13.9),(27,.1,14),(35,.1,12.5),(40,.1,9.9),(41,.1,7),(43,.1,4.8),(100,.1,4),(115,2.5,4)]),
("D",[(3.5,9,10.7),(5,7,11.7),(9,4.7,12.8),(17,4.6,13),(25,4.6,12.7),(29,4.6,11.5),(32,4.6,9.5),(33,4.6,7),(35,4.5,4.8)]),
("S",[(4,9,10.8),(6,7,11.7),(10,4.9,12.4),(17,4.7,12.7),(23,4.7,12.2),(27,4.7,11),(29,4.7,8),(31,4.6,5.5),(33,4.6,4.8)]),
("G",[(4.5,9.5,10.8),(7,7.3,11.6),(13,5,12.2),(18,4.8,12.3),(23,4.8,11.5),(26,4.8,9),(28,4.8,5)]),
("F",[(4.7,9.5,10.8),(8,7.7,11.4),(14,5,12),(18,4.9,12.2),(23,4.9,11.2),(25,4.9,9),(27,4.9,5.1)]),
("L",[(5,9.5,10.8),(9,8,11.3),(16,6,11.8),(20,5,11.7),(24,5.3,10),(26,5.4,7)]),
("Y",[(5.5,9.5,10.7),(9,8.7,11.3),(12,8.2,11.4),(15,7,10.8),(19,5,9.5),(22,4.9,8.7),(25,5.8,8)]),
("L",[(17,8.9,9.7),(20,8.9,10.1),(25,8.9,9.6)]),
("A",[(10,9.8,10.2),(12,9.9,10.3)]),
("A",[(23.5,7,7.5),(24.5,7,7.5)]),
("D",[(8,.1,.5),(12,.1,1),(18,.1,1.6),(30,.1,1.4),(43,.1,.9)]),
("D",[(68,.1,.8),(75,.1,1.4),(85,.1,2.2),(98,.1,3),(105,1,3.6),(115,3,3.9)]),
("S",[(83,.1,1),(90,.1,1.6),(100,.2,2.6),(105,1.7,3.3),(112,3,3.6)]),
("G",[(100,2.6,3),(103,2.7,3.4),(106,3.1,3.4)]),
]

COL2_TEXT = ["t0-10day", "t0-5day", "t0", "t0+5day", "t0+10day"]
COL3_TEXT = ["t0-5day", "t0-5day", "t0", "t0+5day", "t0+10day"]

color_enc = alt.Color("lev:N", scale=alt.Scale(domain=LEVELS, range=COLORS), legend=None)


def scales(xdom, xl, xr, ydom, yb, yt):
    return (alt.Scale(domain=xdom, range=[xl - 8, xr - 8], nice=False, zero=False),
            alt.Scale(domain=ydom, range=[yb - 8, yt - 8], nice=False, zero=False))


def rules(df, sx, sy, color, width, xa=None, ya=None):
    return alt.Chart(df).mark_rule(color=color, strokeWidth=width).encode(
        x=alt.X("x:Q", scale=sx, axis=xa), x2="x2:Q",
        y=alt.Y("y:Q", scale=sy, axis=ya), y2="y2:Q")


def tick_table(xdom, xl, xr, yb, yt, xmaj, xmin_, ymaj, ymin_, ylen, xlen, ytop=17):
    dx = (xdom[1] - xdom[0]) / (xr - xl)
    dy = ytop / (yb - yt)
    rows = []
    for v in ymin_:
        L = ylen[0] if v in ymaj else ylen[1]
        rows.append(dict(x=xdom[0], x2=xdom[0] + L * dx, y=v, y2=v))
        rows.append(dict(x=xdom[1], x2=xdom[1] - L * dx, y=v, y2=v))
    for v in xmin_:
        L = xlen[0] if v in xmaj else xlen[1]
        rows.append(dict(x=v, x2=v, y=0, y2=L * dy))
        rows.append(dict(x=v, x2=v, y=ytop, y2=ytop - L * dy))
    return pd.DataFrame(rows)


def frame_table(xdom, ytop=17):
    return pd.DataFrame([
        dict(x=xdom[0], x2=xdom[0], y=0, y2=ytop), dict(x=xdom[1], x2=xdom[1], y=0, y2=ytop),
        dict(x=xdom[0], x2=xdom[1], y=0, y2=0), dict(x=xdom[0], x2=xdom[1], y=ytop, y2=ytop)])


def colorbar(labels, xl, xr, yb, yt, title, dx, dy, pad, off, font, fsize, bold, stroke, sw, tfont, tsize):
    sx, sy = scales([0, 1], xl, xr, [0, 12], yb, yt)
    levs = ["W", "P", "B", "D", "S", "G", "F", "L", "Y", "O", "A", "R"]
    df = pd.DataFrame({"i": range(12), "i2": range(1, 13), "a": 0, "b": 1, "lev": levs})
    ax = alt.Axis(orient="right", offset=(xr - 8) - VIEW_W, values=list(range(13)), title=None, domain=False, ticks=False,
                  grid=False, labelPadding=pad, labelAlign="center", labelOffset=off, labelFont=font, labelFontSize=fsize,
                  labelFontWeight=bold, labelColor="#111", labelOverlap=False, labelFlush=False,
                  labelExpr="[" + ",".join("'%s'" % s for s in labels) + "][datum.value]")
    r = alt.Chart(df).mark_rect(stroke=stroke, strokeWidth=sw).encode(
        x=alt.X("a:Q", scale=sx, axis=None), x2="b:Q",
        y=alt.Y("i:Q", scale=sy, axis=ax), y2="i2:Q", color=color_enc)
    t = alt.Chart(pd.DataFrame({"t": [title], "a": [0.5], "i": [12]})).mark_text(
        font=tfont, fontSize=tsize, dx=dx, dy=dy, fontWeight=bold, color="#111").encode(
        x=alt.X("a:Q", scale=sx, axis=None), y=alt.Y("i:Q", scale=sy, axis=ax), text="t:N")
    return alt.layer(r, t)


def grid_panel(rows, yb, yt, x_title_pad, title_pad):
    xdom, ydom = [-15, 17], [0, 17]
    xl, xr = 165, 901
    sx, sy = scales(xdom, xl, xr, ydom, yb, yt)
    recs = []
    columns = [[] for _ in range(32)]
    for r, row in enumerate(rows):
        top = 16.74 if r == 0 else 17 - 0.5 * r
        bot = 16.5 - 0.5 * r
        for c, ch in enumerate(row[:32]):
            recs.append(dict(x=-15 + c, x2=-14 + c, y=bot, y2=top, lev=ch))
            runs = columns[c]
            if runs and runs[-1][0] == ch:
                runs[-1][1] = bot
            else:
                runs.append([ch, bot, top])
    # contour edges: each run of a level in one day column is joined to the
    # touching runs of that level in the next column
    joins = []
    for c in range(31):
        for a in columns[c]:
            for b in columns[c + 1]:
                if a[0] == b[0] and a[1] < b[2] and b[1] < a[2]:
                    joins.append((LEVELS.index(a[0]), c, a, b))
    joins.sort(key=lambda j: j[0])
    jrecs = []
    for n, (_, c, a, b) in enumerate(joins):
        jrecs.append(dict(x=-14.5 + c, y=a[1], y2=a[2], lev=a[0], band="j%d" % n))
        jrecs.append(dict(x=-13.5 + c, y=b[1], y2=b[2], lev=a[0], band="j%d" % n))
    xa = alt.Axis(orient="bottom", offset=(yb - 8) - VIEW_H, values=[-15, -10, -5, 0, 5, 10, 15], title="Day", domain=False, ticks=False,
                  grid=False, labelFont="Liberation Sans", labelFontSize=38, labelColor="#111", labelPadding=x_title_pad,
                  labelFlush=False, labelOverlap=False, labelExpr="''+datum.value", titleFont="Liberation Sans", titleFontSize=35,
                  titleFontWeight="normal", titleColor="#111", titlePadding=title_pad)
    ya = alt.Axis(orient="left", offset=-(xl - 8), values=[0.55, 5, 10, 15], title="H", domain=False, ticks=False, grid=False,
                  labelFont="Liberation Sans", labelFontSize=38, labelColor="#111", labelPadding=14, labelOffset=5,
                  labelFlush=False, labelOverlap=False, labelExpr="''+floor(datum.value/5)*5",
                  titleFont="DejaVu Sans", titleFontSize=38, titleFontWeight="normal", titleColor="#111", titlePadding=32)
    g = alt.Chart(pd.DataFrame(recs)).mark_rect().encode(
        x=alt.X("x:Q", scale=sx, axis=xa), x2="x2:Q", y=alt.Y("y:Q", scale=sy, axis=ya), y2="y2:Q",
        color=color_enc, stroke=alt.Stroke("lev:N", scale=alt.Scale(domain=LEVELS, range=COLORS), legend=None))
    smooth = alt.Chart(pd.DataFrame(jrecs)).mark_area(interpolate="linear").encode(
        x=alt.X("x:Q", scale=sx, axis=xa), y=alt.Y("y:Q", scale=sy, axis=ya), y2="y2:Q", color=color_enc, detail="band:N")
    vl = pd.DataFrame([dict(x=v, x2=v, y=0, y2=17) for v in [-10, -5, 0, 5, 10, 15]])
    ticks = tick_table(xdom, xl, xr, yb, yt, [], list(range(-15, 18)), [0, 5, 10, 15], list(range(0, 18)), (14, 7), (0, 0))
    ticks = ticks[~((ticks.y == 0) & (ticks.y2 == 0) & (ticks.x == ticks.x2))]
    dy = 17 / (yb - yt)
    top = pd.DataFrame([dict(x=v, x2=v, y=17, y2=17 - 9 * dy) for v in range(-15, 18)])
    ticks = pd.concat([ticks, top])
    layers = [g, smooth, rules(vl, sx, sy, "#000", 1.6, xa, ya), rules(ticks, sx, sy, "#222", 1.6, xa, ya),
              rules(frame_table(xdom), sx, sy, "#111", 2, xa, ya)]
    for i, path in enumerate(CONTOURS):
        df = pd.DataFrame([dict(x=a, y=b, o=k) for k, (a, b) in enumerate(path)])
        layers.append(alt.Chart(df).mark_line(color="#000", strokeWidth=3.5, strokeJoin="round").encode(
            x=alt.X("x:Q", scale=sx, axis=xa), y=alt.Y("y:Q", scale=sy, axis=ya), order="o:Q"))
    for a, b, s, ang in CONTOUR_LABELS:
        df = pd.DataFrame({"x": [a], "y": [b], "t": [s]})
        layers.append(alt.Chart(df).mark_text(font="Liberation Sans", fontSize=22, angle=(ang + 360) % 360, color="#000").encode(
            x=alt.X("x:Q", scale=sx, axis=xa), y=alt.Y("y:Q", scale=sy, axis=ya), text="t:N"))
    return alt.layer(*layers)


def small_panel(bands, xdom, xl, xr, yt, yb, label, label_x, xvals, xminor, ytitle, xtitle, xpad, tpad, lpad, frame_color, frame_w, ytpad):
    sx, sy = scales(xdom, xl, xr, [0, 17], yb, yt)
    recs = []
    for n, (lev, pts) in enumerate(bands):
        for a, lo, hi in pts:
            recs.append(dict(x=max(xdom[0], min(xdom[1], a)), y=lo, y2=hi, lev=lev, band="b%02d" % n))
    ya = alt.Axis(orient="left", offset=-(xl - 8), values=[0.76, 5, 10, 15], title=ytitle, domain=False, ticks=False, grid=False,
                  labelFont="DejaVu Sans", labelFontSize=30, labelFontWeight="bold", labelColor="#222", labelPadding=lpad, labelOffset=3.5,
                  labelFlush=False, labelOverlap=False, labelExpr="''+floor(datum.value/5)*5",
                  titleFont="DejaVu Sans", titleFontSize=38, titleFontWeight="normal", titleColor="#222", titlePadding=ytpad)
    if xtitle:
        xa = alt.Axis(orient="bottom", offset=(yb - 8) - VIEW_H, values=xvals, title=xtitle, domain=False, ticks=False, grid=False,
                      labelFont="DejaVu Sans", labelFontSize=30, labelFontWeight="bold", labelColor="#222", labelPadding=xpad,
                      labelFlush=False, labelOverlap=False, labelExpr="''+datum.value", titleFont="DejaVu Sans", titleFontSize=31,
                      titleFontWeight="bold", titleColor="#333", titlePadding=tpad)
    else:
        xa = None
    area = alt.Chart(pd.DataFrame(recs)).mark_area(interpolate="monotone").encode(
        x=alt.X("x:Q", scale=sx, axis=xa), y=alt.Y("y:Q", scale=sy, axis=ya), y2="y2:Q", color=color_enc, detail="band:N")
    ticks = tick_table(xdom, xl, xr, yb, yt, xvals, xminor, [0, 5, 10, 15], list(range(0, 18)), (14, 6), (6, 3))
    fr = rules(frame_table(xdom), sx, sy, frame_color, frame_w, xa, ya)
    tk = rules(ticks, sx, sy, "#444", 1.5, xa, ya)
    txt = alt.Chart(pd.DataFrame({"x": [label_x], "y": [13.5], "t": [label]})).mark_text(
        font="DejaVu Sans", fontSize=35, align="left", baseline="middle", color="#222", stroke="#222", strokeWidth=0.5).encode(
        x=alt.X("x:Q", scale=sx, axis=xa), y=alt.Y("y:Q", scale=sy, axis=ya), text="t:N")
    return alt.layer(area, tk, fr, txt)


panels = []
panels.append(grid_panel(U_WIND, 712.5, 117.5, 38, 22))
panels.append(grid_panel(RH, 1476, 882, 38, 20))
panels.append(colorbar(U_LABELS, 922, 948, 712.5, 117.5, "u_wind", 47, -30, 73, 9.5, "Liberation Sans", 37, "normal", "#000", 3, "Liberation Sans", 35))
panels.append(colorbar(RH_LABELS, 922, 948, 1476, 882, "RH", 13, -33, 73, 9.5, "Liberation Sans", 37, "normal", "#000", 3, "Liberation Sans", 35))

col2 = [DBZ_M10, DBZ_M5, DBZ_0, DBZ_P5, DBZ_P10]
col3 = [VD_M5A, VD_M5B, VD_0, VD_P5, VD_P10]
col4 = [WD_M5A, WD_M5B, WD_0, WD_P5, WD_P10]

xv2, xm2 = [-30, -20, -10, 0, 10, 20], list(range(-34, 24, 2))
xv3, xm3 = [-100, 0, 100, 200, 300, 400], list(range(-140, 430, 20))
xv4, xm4 = [0, 20, 40, 60, 80, 100], list(range(0, 117, 4))
top2 = [52.5 + 299.5 * i for i in range(6)]
top3 = [38.5 + 306.5 * i for i in range(6)]
for i in range(5):
    last = i == 4
    panels.append(small_panel(col2[i], [-34.8, 23.33], 1438.4, 1967.3, top2[i], top2[i + 1], COL2_TEXT[i], -5.8, xv2, xm2,
                              "H", "dBZe" if last else None, 28, 14, 18, "#444", 2, 56))
    panels.append(small_panel(col3[i], [-151.4, 437], 2353.4, 2819, top3[i], top3[i + 1], COL3_TEXT[i], 142, xv3, xm3,
                              None, "Vd (cm/s)" if last else None, 28, 10, 15, "#777", 3, 0))
    panels.append(small_panel(col4[i], [-0.2, 117], 3176.6, 3680.7, top2[i], top2[i + 1], COL3_TEXT[i], 59, xv4, xm4,
                              "H", "Width (cm/s)" if last else None, 28, 14, 16, "#444", 2, 44))

panels.append(colorbar(PCT_LABELS, 2006, 2022, 1551, 951.7, "%", 12, -29, 31, 7, "DejaVu Sans", 30, "bold", "#666", 1, "DejaVu Sans", 30))
panels.append(colorbar(PCT_LABELS, 2851, 2865, 1570.8, 958.6, "%", 10, -30, 28, 7, "DejaVu Sans", 30, "bold", "#666", 1, "DejaVu Sans", 30))
panels.append(colorbar(PCT_LABELS, 3718, 3733.5, 1550, 950.3, "%", 10, -27, 23, 7, "DejaVu Sans", 30, "bold", "#666", 1, "DejaVu Sans", 30))

CAPTION = "Figure 2. the same at figure 1 except for Manus"
cap = alt.Chart(pd.DataFrame({"t": [CAPTION]})).mark_text(
    font="Open Sans", fontSize=65, align="left", baseline="alphabetic", color="#111").encode(
    text="t:N", x=alt.value(31), y=alt.value(1646))
panels.append(cap)

# stray glyphs left over at the panel edges in the source figure
for s, px, py in [("(", 3163, 378), (")", 2813, 379)]:
    panels.append(alt.Chart(pd.DataFrame({"t": [s]})).mark_text(
        font="DejaVu Sans", fontSize=30, fontWeight="bold", color="#222").encode(
        text="t:N", x=alt.value(px), y=alt.value(py)))
# cut-off bottom edge of the panels above the top of columns 3 and 4
for x0, x1, py, c in [(2345, 2757, 27, "#1030c0"), (3168, 3673, 42, "#2040a0")]:
    panels.append(alt.Chart(pd.DataFrame({"k": [0]})).mark_rule(color=c, strokeWidth=3).encode(
        x=alt.value(x0), x2=alt.value(x1), y=alt.value(py)))

chart = alt.layer(*panels).resolve_scale(x="independent", y="independent").resolve_axis(x="independent", y="independent").properties(
    width=VIEW_W, height=VIEW_H, padding=0, autosize=alt.AutoSizeParams(type="none"),
    background="white").configure_view(stroke=None)
chart.save("out.html", embed_options={"renderer": "svg", "actions": False})
